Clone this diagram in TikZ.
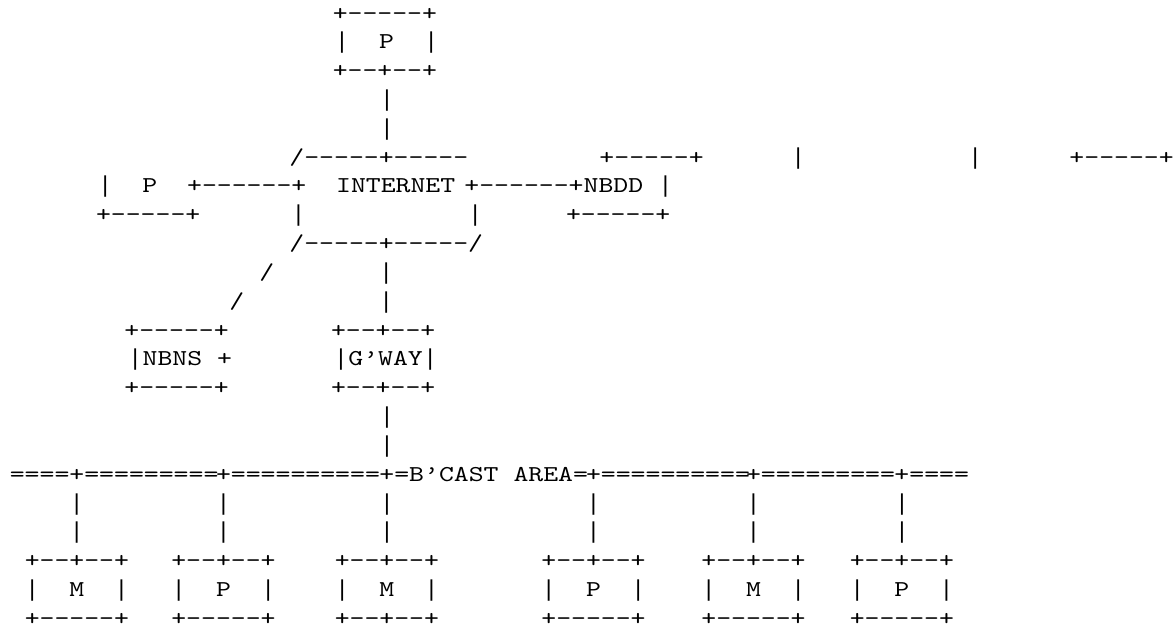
\documentclass[tikz,border=0pt]{standalone}
\usepackage{fontspec}
\setmonofont[FakeStretch=1.25]{lmmono10-regular.otf}
\newfontfamily\barfont{Liberation Mono}

\def\hp{7.45}
\def\pitch{14.9}
% tall bar, one character wide
\newcommand\asbar{\makebox[14.9pt]{\barfont\fontsize{23}{27}\selectfont|}}

\tikzset{
  asc/.style={font=\ttfamily\fontsize{22.7}{27}\selectfont, inner sep=0pt, anchor=base west}
}

\begin{document}
\begin{tikzpicture}[x=1pt, y=-28.83pt]
  \useasboundingbox (0,0.3063) rectangle (1173,22.02);

  % P above the internet
  \node[asc] (ptop1) at (340-\hp,1) {+-----+};
  \node[asc] (ptop2) at (341.7-\hp,2) {\asbar~~P~~\asbar};
  \node[asc] (ptop3) at (340-\hp,3) {+--+--+};
  \foreach \r in {4,5} {\node[asc] (vtop\r) at (386.7-\hp,\r) {\asbar};}

  % internet row
  \node[asc] (inet1) at (296.7-\hp,6) {/-----+-----};
  \node[asc] (nbdd1) at (606.7-\hp,6) {+-----+};
  \node[asc] (bar1) at (798-\hp,6) {\asbar};
  \node[asc] (bar2) at (975-\hp,6) {\asbar};
  \node[asc] (box1) at (1076.7-\hp,6) {+-----+};

  \node[asc] (inet2) at (105-\hp,7) {\asbar~~P~~+------+~~INTERNET};
  \node[asc] (nbdd2) at (471.7-\hp,7) {+------+NBDD~\asbar};

  \node[asc] (pleft) at (103.3-\hp,8) {+-----+};
  \node[asc] (inet3a) at (298.3-\hp,8) {\asbar};
  \node[asc] (inet3b) at (475-\hp,8) {\asbar};
  \node[asc] (nbdd3) at (573.3-\hp,8) {+-----+};

  \node[asc] (inet4) at (296.7-\hp,9) {/-----+-----/};

  % links down to NBNS and gateway
  \node[asc] (sl1) at (266.7-\hp,10) {/};
  \node[asc] (sl2) at (236.7-\hp,11) {/};
  \foreach \r in {10,11} {\node[asc] (vgw\r) at (386-\hp,\r) {\asbar};}

  \node[asc] (nbns1) at (131.7-\hp,12) {+-----+};
  \node[asc] (nbns2) at (135-\hp,13) {\asbar NBNS~+};
  \node[asc] (nbns3) at (131.7-\hp,14) {+-----+};
  \node[asc] (gw1) at (338.3-\hp,12) {+--+--+};
  \node[asc] (gw2) at (340.7-\hp,13) {\asbar G’WAY\asbar};
  \node[asc] (gw3) at (338.3-\hp,14) {+--+--+};
  \foreach \r in {15,16} {\node[asc] (vbus\r) at (386.7-\hp,\r) {\asbar};}

  % broadcast area
  \node[asc] (bus0) at (17.1-\hp,17) {====};
  \node[asc] (bus1) at (76.7-\hp,17) {+=========};
  \node[asc] (bus2) at (223.3-\hp,17) {+==========};
  \node[asc] (bus3) at (386.7-\hp,17) {+=B’CAST~AREA=};
  \node[asc] (bus4) at (593.3-\hp,17) {+==========};
  \node[asc] (bus5) at (753.3-\hp,17) {+=========};
  \node[asc] (bus6) at (901.7-\hp,17) {+====};

  % stations
  \foreach \x/\lab/\base [count=\i] in {76.7/M/-----, 223.3/P/-----, 386.7/M/--+--,
                                        593.3/P/-----, 753.3/M/-----, 901.7/P/-----} {
    \node[asc] (drop\i-a) at (\x-\hp,18) {\asbar};
    \node[asc] (drop\i-b) at (\x-\hp,19) {\asbar};
    \node[asc] (st\i-a) at (\x-3*\pitch-\hp,20) {+--+--+};
    \node[asc] (st\i-b) at (\x-3*\pitch-\hp,21) {\asbar~~\lab~~\asbar};
    \node[asc] (st\i-c) at (\x-3*\pitch-\hp,22) {+\base+};
  }
\end{tikzpicture}
\end{document}
